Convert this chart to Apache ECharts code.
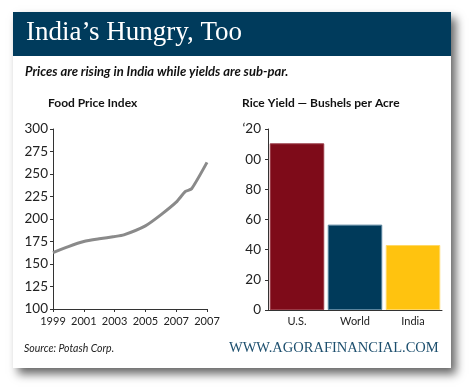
<!DOCTYPE html>
<html>
<head>
<meta charset="utf-8">
<script src="https://cdn.jsdelivr.net/npm/echarts@6/dist/echarts.min.js"></script>
<style>html,body{margin:0;padding:0;background:#fff;}#c{width:470px;height:389px;}</style>
</head>
<body>
<div id="c"></div>
<script>
// Food Price Index (left panel)
var priceYears = [1999, 2000, 2001, 2002, 2003, 2003.6, 2005, 2006, 2007, 2007.6, 2008, 2009];
var priceValues = [162.7, 169.4, 175, 178, 180.5, 182.4, 192.4, 204.6, 218.7, 230.6, 233.6, 262.9];
var priceTickLabels = ['1999', '2001', '2003', '2005', '2007', '2007'];
// Rice Yield (right panel)
var riceCategories = ['U.S.', 'World', 'India'];
var riceValues = [110.5, 56.6, 43.1];
var riceColors = ['#7e0b19', '#003a5a', '#ffc30f'];
var riceBorders = ['#9a3a46', '#5a859e', '#ffd866'];
var riceTickLabels = {0: '0', 20: '20', 40: '40', 60: '60', 80: '80', 100: '00', 120: '\u201820'};

var chart = echarts.init(document.getElementById('c'), null, {renderer: 'canvas'});
var sans = 'Lato';
var option = {
  backgroundColor: '#ffffff',
  animation: false,
  graphic: [
    {type: 'rect', z: -10, shape: {x: 13, y: 12, width: 438, height: 356},
     style: {fill: '#ffffff', shadowBlur: 9, shadowOffsetX: 5, shadowOffsetY: 6, shadowColor: 'rgba(0,0,0,0.6)'}},
    {type: 'rect', z: -9, shape: {x: 13, y: 12, width: 438, height: 44}, style: {fill: '#003b5c'}},
    {type: 'text', z: 10, left: 26, top: 19,
     style: {text: 'India\u2019s Hungry, Too', fill: '#ffffff', font: '27px "Liberation Serif"',
       shadowColor: 'rgba(0,0,0,0.95)', shadowOffsetX: 2, shadowOffsetY: 2, shadowBlur: 2}},
    {type: 'text', z: 10, left: 25, top: 65,
     style: {text: 'Prices are rising in India while yields are sub-par.', fill: '#111', font: 'italic bold 13px Lato'}},
    {type: 'text', z: 10, left: 48, top: 97,
     style: {text: 'Food Price Index', fill: '#111', font: 'bold 12px Lato'}},
    {type: 'text', z: 10, left: 242, top: 97,
     style: {text: 'Rice Yield \u2014 Bushels per Acre', fill: '#111', font: 'bold 12px Lato'}},
    {type: 'text', z: 10, left: 24, top: 343,
     style: {text: 'Source: Potash Corp.', fill: '#222', font: 'italic 10.5px Lato'}},
    {type: 'text', z: 10, left: 229, top: 341,
     style: {text: 'WWW.AGORAFINANCIAL.COM', fill: '#1d4f6e', font: '14.5px "Liberation Serif"'}}
  ],
  grid: [
    {left: 53, top: 129, width: 154, height: 180},
    {left: 268, top: 129, width: 174, height: 181}
  ],
  xAxis: [
    {type: 'value', gridIndex: 0, min: 1999, max: 2009, interval: 2,
     axisLine: {lineStyle: {color: '#333', width: 1}},
     axisTick: {show: true, length: 3, lineStyle: {color: '#333'}},
     splitLine: {show: false},
     axisLabel: {color: '#222', fontFamily: sans, fontSize: 11, margin: 7,
       formatter: function (v) { var i = Math.round((v - 1999) / 2); return priceTickLabels[i] || ''; }}},
    {type: 'category', gridIndex: 1, data: riceCategories,
     axisLine: {lineStyle: {color: '#333', width: 1}},
     axisTick: {show: false},
     axisLabel: {color: '#222', fontFamily: sans, fontSize: 11, margin: 6}}
  ],
  yAxis: [
    {type: 'value', gridIndex: 0, min: 100, max: 300, interval: 25,
     axisLine: {show: true, lineStyle: {color: '#333', width: 1}},
     axisTick: {show: true, length: 3, lineStyle: {color: '#333'}},
     splitLine: {show: false},
     axisLabel: {color: '#222', fontFamily: sans, fontSize: 13.5, margin: 5}},
    {type: 'value', gridIndex: 1, min: 0, max: 120, interval: 20,
     axisLine: {show: true, lineStyle: {color: '#333', width: 1}},
     axisTick: {show: true, length: 3, lineStyle: {color: '#333'}},
     splitLine: {show: false},
     axisLabel: {color: '#222', fontFamily: sans, fontSize: 13.5, margin: 7,
       formatter: function (v) { return riceTickLabels[v]; }}}
  ],
  series: [
    {type: 'line', xAxisIndex: 0, yAxisIndex: 0, symbol: 'none', smooth: 0.2,
     lineStyle: {color: '#8a8a8a', width: 3},
     data: priceYears.map(function (y, i) { return [y, priceValues[i]]; })},
    {type: 'bar', xAxisIndex: 1, yAxisIndex: 1, barCategoryGap: '6%',
     data: riceValues.map(function (v, i) {
       return {value: v, itemStyle: {color: riceColors[i], borderColor: riceBorders[i], borderWidth: 1}};
     })}
  ]
};
chart.setOption(option);
</script>
</body>
</html>
